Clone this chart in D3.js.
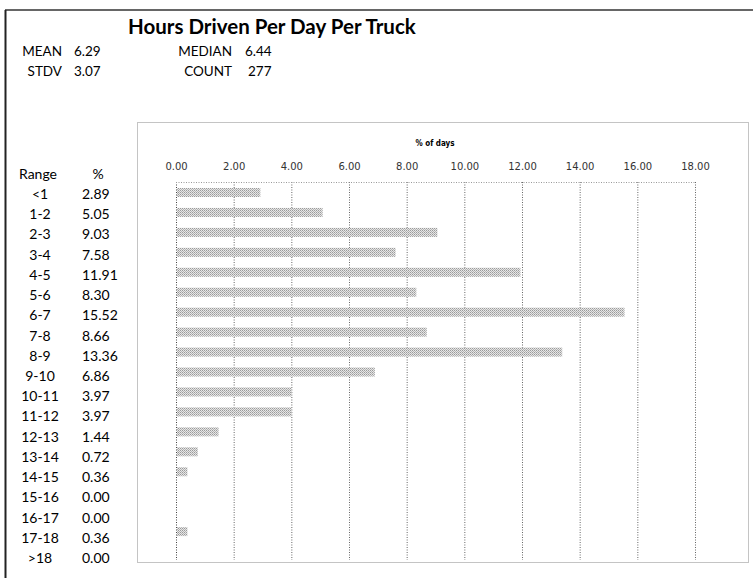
<!DOCTYPE html>
<html>
<head>
<meta charset="utf-8">
<script src="https://cdn.jsdelivr.net/npm/d3@7"></script>
<style>
  body { margin: 0; background: #fff; }
  svg text { font-family: Lato, "Open Sans", sans-serif; fill: #000; }
  .tick text { font-family: "DejaVu Sans", sans-serif; font-size: 10px; fill: #333; }
</style>
</head>
<body>
<div id="chart"></div>
<script>
var ranges = ['<1', '1-2', '2-3', '3-4', '4-5', '5-6', '6-7', '7-8', '8-9', '9-10',
  '10-11', '11-12', '12-13', '13-14', '14-15', '15-16', '16-17', '17-18', '>18'];
var pct = [2.89, 5.05, 9.03, 7.58, 11.91, 8.30, 15.52, 8.66, 13.36, 6.86,
  3.97, 3.97, 1.44, 0.72, 0.36, 0.00, 0.00, 0.36, 0.00];
var xTicks = [0, 2, 4, 6, 8, 10, 12, 14, 16, 18];
var stats = [['MEAN', '6.29'], ['STDV', '3.07'], ['MEDIAN', '6.44'], ['COUNT', '277']];

var W = 753, H = 578;
var svg = d3.select('#chart').append('svg')
  .attr('width', W).attr('height', H);

// dithered gray fill like the scanned bars
var pat = svg.append('defs').append('pattern')
  .attr('id', 'dots').attr('width', 2).attr('height', 2)
  .attr('patternUnits', 'userSpaceOnUse');
pat.append('rect').attr('width', 2).attr('height', 2).attr('fill', '#e6e6e6');
pat.append('rect').attr('width', 1).attr('height', 1).attr('fill', '#9a9a9a');
pat.append('rect').attr('x', 1).attr('y', 1).attr('width', 1).attr('height', 1).attr('fill', '#b4b4b4');

// page border (top + left)
svg.append('line').attr('x1', 5).attr('x2', W).attr('y1', 10).attr('y2', 10)
  .style('stroke', '#333').style('stroke-width', 1.5);
svg.append('line').attr('x1', 5.5).attr('x2', 5.5).attr('y1', 10).attr('y2', H)
  .style('stroke', '#222').style('stroke-width', 2);

svg.append('text').attr('x', 128).attr('y', 34)
  .style('font-size', '20.5px').style('font-weight', 'bold')
  .text('Hours Driven Per Day Per Truck');

// stats block
stats.forEach(function (s, i) {
  var col = Math.floor(i / 2), row = i % 2;
  var lx = col == 0 ? 62 : 232, vx = col == 0 ? 74 : (row == 0 ? 245 : 248);
  var y = 56 + row * 20;
  svg.append('text').attr('x', lx).attr('y', y).attr('text-anchor', 'end')
    .style('font-size', '13.5px').text(s[0]);
  svg.append('text').attr('x', vx).attr('y', y)
    .style('font-size', '13.5px').text(s[1]);
});

// chart box
svg.append('rect').attr('x', 137.5).attr('y', 122.5).attr('width', 611).attr('height', 440)
  .attr('fill', 'none').style('stroke', '#888').style('stroke-dasharray', '1,1');

var x = d3.scaleLinear().domain([0, 18]).range([176, 695]);
var y = d3.scaleBand().domain(ranges).range([182, 562]).paddingInner(0.55).paddingOuter(0.3);

// grid lines
svg.selectAll('.grid').data(xTicks).enter().append('line')
  .attr('class', 'grid')
  .attr('x1', function (d) { return x(d) + 0.5; })
  .attr('x2', function (d) { return x(d) + 0.5; })
  .attr('y1', 182).attr('y2', 560)
  .style('stroke', function (d) { return d == 0 ? '#444' : '#666'; })
  .style('stroke-dasharray', '1,1.5');
svg.append('line').attr('x1', 176).attr('x2', 695).attr('y1', 182.5).attr('y2', 182.5)
  .style('stroke', '#999').style('stroke-dasharray', '1,1.5');

// top axis labels
var axis = svg.append('g').attr('transform', 'translate(0,170)')
  .call(d3.axisTop(x).tickValues(xTicks).tickSize(0).tickPadding(0)
    .tickFormat(function (d) { return d3.format('.2f')(d); }));
axis.select('.domain').remove();

svg.append('text').attr('x', 435).attr('y', 146).attr('text-anchor', 'middle')
  .style('font-size', '8px').style('font-weight', 'bold').style('font-family', '"DejaVu Sans Condensed", sans-serif')
  .text('% of days');

// bars
svg.selectAll('.bar').data(pct).enter().append('rect')
  .attr('class', 'bar')
  .attr('x', x(0) + 1)
  .attr('y', function (d, i) { return y(ranges[i]); })
  .attr('width', function (d) { return Math.max(0, x(d) - x(0)); })
  .attr('height', y.bandwidth())
  .attr('fill', 'url(#dots)');

// table on the left
var ty = d3.scalePoint().domain(ranges).range([194, 558]);
svg.append('text').attr('x', 38).attr('y', 179).attr('text-anchor', 'middle')
  .style('font-size', '14px').text('Range');
svg.append('text').attr('x', 98).attr('y', 179).attr('text-anchor', 'middle')
  .style('font-size', '14px').text('%');
svg.selectAll('.rlab').data(ranges).enter().append('text')
  .attr('class', 'rlab')
  .attr('x', 40).attr('y', function (d) { return ty(d) + 5; })
  .attr('text-anchor', 'middle').style('font-size', '14px')
  .text(function (d) { return d; });
svg.selectAll('.plab').data(pct).enter().append('text')
  .attr('class', 'plab')
  .attr('x', 82).attr('y', function (d, i) { return ty(ranges[i]) + 5; })
  .style('font-size', '14px')
  .text(function (d) { return d.toFixed(2); });
</script>
</body>
</html>
